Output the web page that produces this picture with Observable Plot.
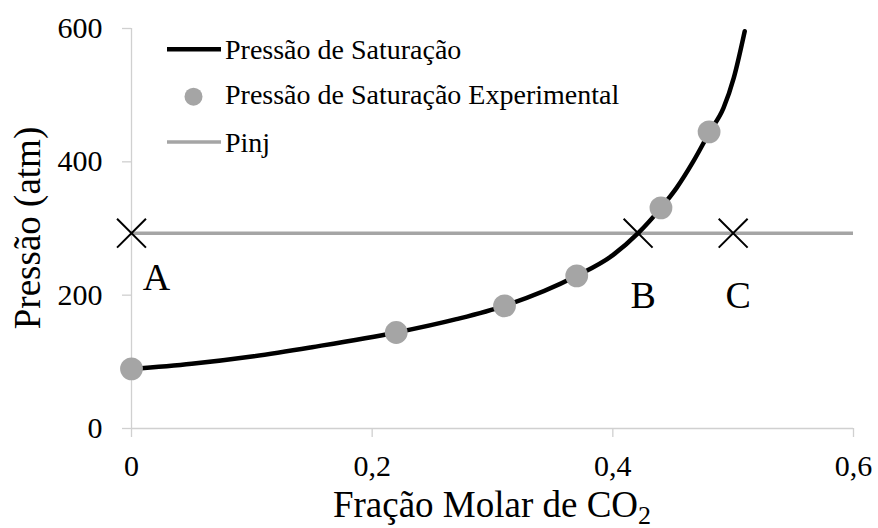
<!DOCTYPE html>
<html><head><meta charset="utf-8">
<script src="https://cdn.jsdelivr.net/npm/d3@7"></script>
<script src="https://cdn.jsdelivr.net/npm/@observablehq/plot@0.6"></script>
<style>body{margin:0;background:#fff}</style>
</head><body><div id="chart"></div>
<script>
// Saturation pressure curve
const curveX = [0, 0.05, 0.10, 0.15, 0.22, 0.27, 0.31, 0.37, 0.40, 0.421, 0.44, 0.453, 0.467, 0.4805, 0.492, 0.5005, 0.5096];
const curveY = [89, 97, 108, 122, 144, 164, 184, 229, 260, 293, 331, 361, 401, 445, 481, 526, 596];
// Experimental saturation pressure
const expX = [0, 0.22, 0.31, 0.37, 0.44, 0.48];
const expY = [89.5, 144, 184, 229, 331, 445];
// Injection pressure
const pinj = 293;
const pinjX = [0, 0.6];
// Marked points
const markLabels = ["A", "B", "C"];
const markX = [0, 0.421, 0.5];
// Axes
const xTicks = [0, 0.2, 0.4, 0.6];
const yTicks = [0, 200, 400, 600];
const xTitle = ["Fração Molar de CO", "2"];
const yTitle = "Pressão (atm)";
const legendNames = ["Pressão de Saturação", "Pressão de Saturação Experimental", "Pinj"];

const curve = curveX.map((x, i) => ({x, y: curveY[i]}));
const exp = expX.map((x, i) => ({x, y: expY[i]}));
const marksData = markLabels.map((label, i) => ({label, x: markX[i], y: pinj}));

const FONT = "'Liberation Serif', 'Times New Roman', serif";
const GREY = "#a5a5a5";
const AXIS = "#d0d0d0";

function titles(index, scales, values, dim) {
  const g = d3.create("svg:g").attr("font-family", FONT).attr("fill", "black");
  const cx = dim.marginLeft + (dim.width - dim.marginLeft - dim.marginRight) / 2;
  const t = g.append("text").attr("x", cx).attr("y", 517).attr("text-anchor", "middle").attr("font-size", 37);
  t.append("tspan").text(xTitle[0]);
  t.append("tspan").attr("font-size", 26).attr("dy", 7).text(xTitle[1]);
  const cy = dim.marginTop + (dim.height - dim.marginTop - dim.marginBottom) / 2;
  g.append("text").attr("transform", `translate(40,${cy}) rotate(-90)`).attr("text-anchor", "middle")
    .attr("font-size", 37).text(yTitle);
  return g.node();
}

function legend(index, scales, values, dim) {
  const g = d3.create("svg:g").attr("font-family", FONT).attr("font-size", 28).attr("text-anchor", "start");
  const x0 = 167, x1 = 221, tx = 225;
  const rows = [49.3, 96.7, 142];
  const baselines = [59, 104.3, 151.5];
  g.append("line").attr("x1", x0).attr("x2", x1).attr("y1", rows[0]).attr("y2", rows[0])
    .attr("stroke", "black").attr("stroke-width", 4.5);
  g.append("circle").attr("cx", (x0 + x1) / 2 - 0.5).attr("cy", rows[1]).attr("r", 9).attr("fill", GREY);
  g.append("line").attr("x1", x0).attr("x2", x1).attr("y1", rows[2]).attr("y2", rows[2])
    .attr("stroke", GREY).attr("stroke-width", 3.5);
  legendNames.forEach((name, i) => {
    g.append("text").attr("x", tx).attr("y", baselines[i]).attr("fill", "black").text(name);
  });
  return g.node();
}

const fmt = d => String(d).replace(".", ",");

const chart = Plot.plot({
  width: 878,
  height: 528,
  marginLeft: 131,
  marginRight: 25,
  marginTop: 28,
  marginBottom: 100,
  style: {fontFamily: FONT, background: "white", color: "black", overflow: "visible"},
  x: {domain: [0, 0.6]},
  y: {domain: [0, 600]},
  marks: [
    Plot.ruleX([0], {stroke: AXIS, strokeWidth: 1.3}),
    Plot.ruleY([0], {stroke: AXIS, strokeWidth: 1.3}),
    Plot.axisX({ticks: xTicks, tickFormat: fmt, tickSize: 9, tickPadding: 17, fontSize: 30, stroke: AXIS, fill: "black", strokeWidth: 1.3, label: null}),
    Plot.axisY({ticks: yTicks, tickFormat: fmt, tickSize: 9, tickPadding: 20, fontSize: 30, stroke: AXIS, fill: "black", strokeWidth: 1.3, label: null}),
    Plot.ruleY([pinj], {x1: pinjX[0], x2: pinjX[1], stroke: GREY, strokeWidth: 3.5}),
    Plot.line(curve, {x: "x", y: "y", curve: "monotone-x", stroke: "black", strokeWidth: 4.5}),
    Plot.dot(exp, {x: "x", y: "y", r: 11.4, fill: GREY, stroke: "none"}),
    Plot.dot(marksData, {x: "x", y: "y", symbol: "times", r: 13.2, stroke: "black", strokeWidth: 2}),
    Plot.text(marksData.slice(0, 1), {x: "x", y: "y", text: "label", dx: 25, dy: 44.5, fontSize: 38, fill: "black"}),
    Plot.text(marksData.slice(1), {x: "x", y: "y", text: "label", dx: 5, dy: 62.5, fontSize: 38, fill: "black"}),
    titles,
    legend
  ]
});
document.getElementById("chart").appendChild(chart);
</script>
</body></html>
